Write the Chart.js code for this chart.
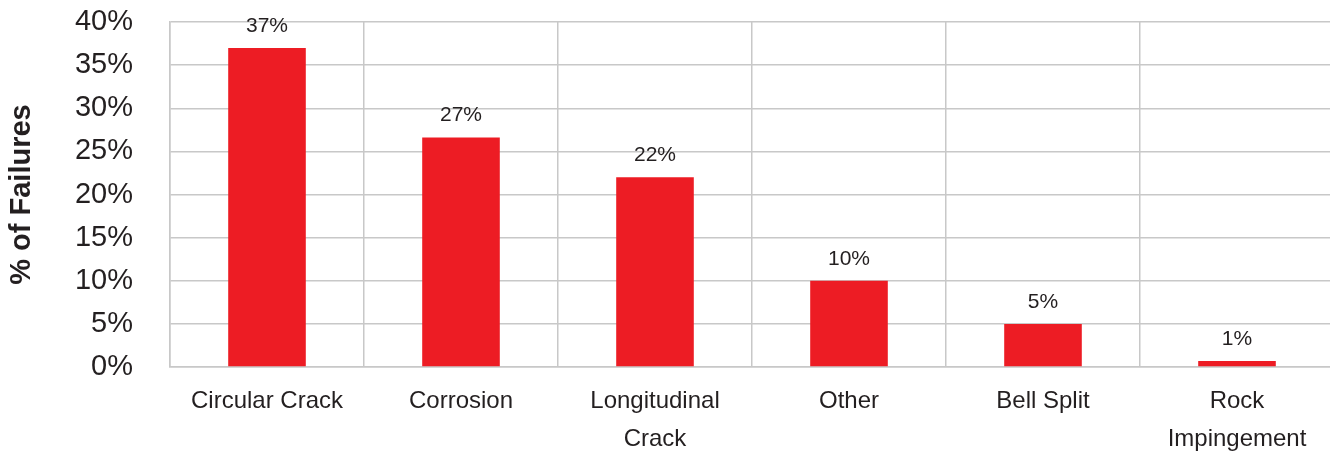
<!DOCTYPE html>
<html>
<head>
<meta charset="utf-8">
<script src="https://cdn.jsdelivr.net/npm/chart.js@4/dist/chart.umd.min.js"></script>
<style>
  html, body { margin: 0; padding: 0; background: #fff; overflow: hidden; }
  #wrap { width: 1336px; height: 452px; position: relative; }
</style>
</head>
<body>
<div id="wrap"><canvas id="failChart"></canvas></div>
<script>
  // Failure modes and share of failures (%)
  const categories = ['Circular Crack', 'Corrosion', ['Longitudinal', 'Crack'], 'Other', 'Bell Split', ['Rock', 'Impingement']];
  const failureShare = [37.0, 26.6, 22.0, 10.0, 5.0, 0.7];
  const shareLabels = ['37%', '27%', '22%', '10%', '5%', '1%'];
  const yTicks = [0, 5, 10, 15, 20, 25, 30, 35, 40];

  const textColor = '#231f20';
  const gridColor = '#c8c8c8';
  const fontFamily = '"Liberation Sans", Arial, Helvetica, sans-serif';

  // draws the value above each bar
  const barValueLabels = {
    id: 'barValueLabels',
    afterDatasetsDraw(chart) {
      const ctx = chart.ctx;
      const meta = chart.getDatasetMeta(0);
      ctx.save();
      ctx.font = '21px ' + fontFamily;
      ctx.fillStyle = textColor;
      ctx.textAlign = 'center';
      ctx.textBaseline = 'middle';
      meta.data.forEach((bar, i) => {
        ctx.fillText(shareLabels[i], bar.x, bar.y - 22);
      });
      ctx.restore();
    }
  };

  const ctx = document.getElementById('failChart').getContext('2d');
  const failChart = new Chart(ctx, {
    type: 'bar',
    data: {
      labels: categories,
      datasets: [{
        label: '% of Failures',
        data: failureShare,
        backgroundColor: '#ed1c24',
        borderWidth: 0,
        barPercentage: 0.4,
        categoryPercentage: 1.0
      }]
    },
    options: {
      responsive: true,
      maintainAspectRatio: false,
      animation: false,
      layout: { padding: { top: 22, right: 2, left: 0, bottom: 0 } },
      plugins: {
        legend: { display: false },
        tooltip: { enabled: false }
      },
      scales: {
        x: {
          grid: { color: gridColor, lineWidth: 1.5, drawTicks: false, offset: true },
          border: { color: gridColor, width: 1.5 },
          ticks: {
            color: textColor,
            padding: 15,
            maxRotation: 0,
            autoSkip: false,
            font: { family: fontFamily, size: 24, lineHeight: 1.58 }
          },
          afterFit(scale) { scale.height = 85; }
        },
        y: {
          min: 0,
          max: 40,
          afterBuildTicks(scale) { scale.ticks = yTicks.map(v => ({ value: v })); },
          grid: { color: gridColor, lineWidth: 1.5, drawTicks: false },
          border: { color: gridColor, width: 1.5 },
          ticks: {
            color: textColor,
            padding: 37,
            font: { family: fontFamily, size: 29 },
            callback: v => v + '%'
          },
          title: {
            display: true,
            text: '% of Failures',
            color: textColor,
            padding: { top: 5, bottom: 4 },
            font: { family: fontFamily, size: 29, weight: 'bold' }
          },
          afterFit(scale) {
            scale.width = 170;
            scale.paddingTop = 0;
            scale.paddingBottom = 0;
          }
        }
      }
    },
    plugins: [barValueLabels]
  });
</script>
</body>
</html>
